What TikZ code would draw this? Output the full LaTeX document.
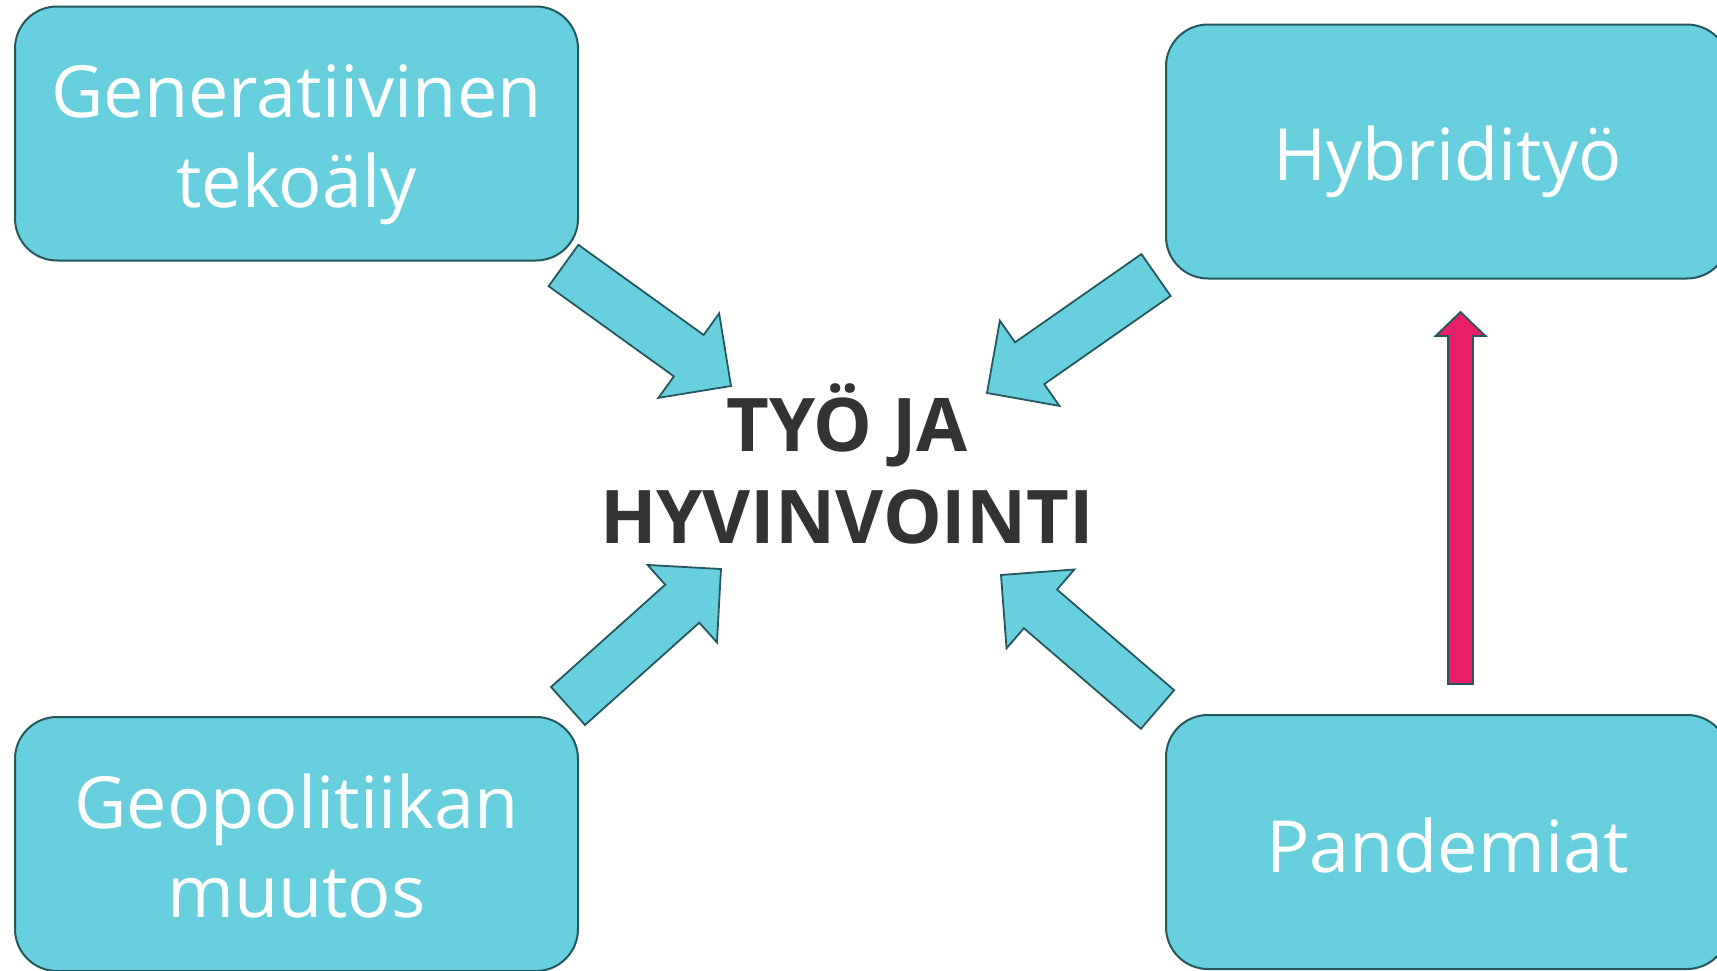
\documentclass[tikz,border=0pt]{standalone}
\usepackage{fontspec}
\setmainfont{Open Sans}
\usepackage{tikz}
\usetikzlibrary{calc}

\definecolor{laatikko}{RGB}{103,207,222}
\definecolor{reuna}{RGB}{37,87,95}
\definecolor{pinkki}{RGB}{232,30,104}
\definecolor{otsikko}{RGB}{51,51,51}

\tikzset{
  laatikko/.style = {draw = reuna, fill = laatikko, line width = 2pt, rounded corners = 42pt, minimum width = 563pt, minimum height = 254pt},
  teksti/.style = {text = white, align = center, inner sep = 0pt, anchor = base, font = \fontsize{72}{90}\selectfont},
  nuoli/.style = {draw = reuna, line width = 1.8pt}
}

\begin{document}
\begin{tikzpicture}[x = 1pt, y = -1pt]
\useasboundingbox (0,0) rectangle (1717,970);

\node[laatikko] (tekoaly) at (296.5,133.5) {};
\node[laatikko] (geopol) at (296.5,844) {};
\node[laatikko] (hybridi) at (1447.5,151.5) {};
\node[laatikko] (pandemia) at (1447.5,842) {};

% tekstit: base = viimeisen rivin perusviiva
\node[teksti] (tekoalyt) at (296.5,207) {Generatiivinen\\tekoäly};
\node[teksti, font = \fontsize{72}{89}\selectfont] (geopolt) at (296.5,917.5) {Geopolitiikan\\muutos};
\node[teksti] (hybridit) at (1447.5,180) {Hybridityö};
\node[teksti] (pandemiat) at (1447.5,872) {Pandemiat};

\node[teksti, text = otsikko, font = \fontsize{74}{92}\selectfont\bfseries] (tyo) at (847,543) {TYÖ JA\\HYVINVOINTI};

% nuolten kannat ja kärjet
\coordinate (a1) at (563.5,265.5);  \coordinate (k1) at (731,386);
\coordinate (a2) at (1156,275);     \coordinate (k2) at (987,393);
\coordinate (a3) at (568,706);      \coordinate (k3) at (721,569);
\coordinate (a4) at (1157.5,709.5); \coordinate (k4) at (1001,575);
\coordinate (a5) at (1460.5,684);   \coordinate (k5) at (1460.5,312);

\foreach \alku/\loppu/\s/\w/\h/\vari in {a1/k1/25.5pt/52pt/52pt/laatikko, a2/k2/25.5pt/52pt/52pt/laatikko, a3/k3/25.5pt/52pt/52pt/laatikko, a4/k4/25.5pt/52pt/52pt/laatikko, a5/k5/12.5pt/25pt/24pt/pinkki}{
  \coordinate (kanta) at ($(\loppu)!\h!(\alku)$);
  \draw[nuoli, fill = \vari] ($(\alku)!\s!90:(\loppu)$) -- ($(kanta)!\s!90:(\loppu)$) -- ($(kanta)!\w!90:(\loppu)$) -- (\loppu) -- ($(kanta)!\w!-90:(\loppu)$) -- ($(kanta)!\s!-90:(\loppu)$) -- ($(\alku)!\s!-90:(\loppu)$) -- cycle;
}
\end{tikzpicture}
\end{document}
